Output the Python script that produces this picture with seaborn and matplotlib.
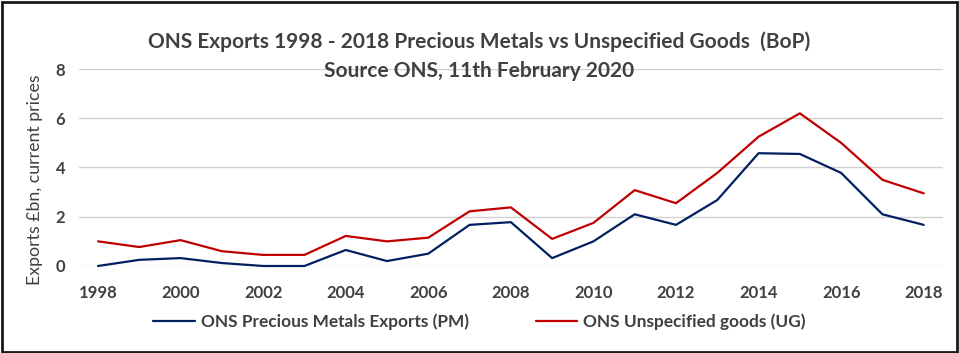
import pandas as pd
import matplotlib.pyplot as plt
import seaborn as sns
from matplotlib.patches import Rectangle

# data (GBP bn, current prices)
years = list(range(1998, 2019))
pm_exports = [0.0, 0.25, 0.32, 0.12, 0.0, 0.0, 0.65, 0.2, 0.5, 1.67, 1.78,
              0.32, 1.0, 2.1, 1.67, 2.68, 4.58, 4.55, 3.78, 2.1, 1.67]
ug_exports = [1.0, 0.77, 1.05, 0.6, 0.45, 0.45, 1.22, 1.0, 1.15, 2.22, 2.38,
              1.1, 1.75, 3.08, 2.55, 3.78, 5.25, 6.2, 5.0, 3.5, 2.95]
series_names = ['ONS Precious Metals Exports (PM)', 'ONS Unspecified goods (UG)']
series_colors = ['#002060', '#C00000']

df = pd.concat([
    pd.DataFrame({'year': years, 'value': pm_exports, 'series': series_names[0]}),
    pd.DataFrame({'year': years, 'value': ug_exports, 'series': series_names[1]}),
])

sns.set_style('white')
plt.rcParams['font.family'] = ['Lato', 'DejaVu Sans']
txt = '#404040'

fig = plt.figure(figsize=(9.59, 3.53), dpi=100)
ax = fig.add_axes([0.0824, 0.2465, 0.9006, 0.558])

sns.lineplot(data=df, x='year', y='value', hue='series',
             palette=dict(zip(series_names, series_colors)),
             linewidth=1.6, ax=ax, legend=False)
for l in ax.lines:
    l.set_clip_on(False)

ax.set_xlim(1997.54, 2018.46)
ax.set_ylim(0, 8)
ax.set_xticks(range(1998, 2019, 2))
ax.set_yticks(range(0, 9, 2))
ax.grid(axis='y', color='#d0d0d0', linewidth=1)
ax.set_axisbelow(True)
for s in ax.spines.values():
    s.set_visible(False)
ax.tick_params(length=0, labelsize=12, labelcolor=txt)
ax.tick_params(axis='x', pad=14)
ax.tick_params(axis='y', pad=10)
for lab in ax.get_xticklabels() + ax.get_yticklabels():
    lab.set_fontweight('bold')
ax.set_xlabel('')
ax.set_ylabel('')

# y label placed like the original (slightly below the axes centre)
fig.text(35 / 959, 1 - 180 / 353, 'Exports £bn, current prices', rotation=90,
         ha='center', va='center', fontsize=12.8, color=txt)

title_lines = ['ONS Exports 1998 - 2018 Precious Metals vs Unspecified Goods  (BoP)',
               'Source ONS, 11th February 2020']
fig.text(0.5, 1 - 42 / 353, title_lines[0], ha='center', va='center',
         fontsize=15, fontweight='bold', color=txt)
fig.text(0.5, 1 - 71 / 353, title_lines[1], ha='center', va='center',
         fontsize=15, fontweight='bold', color=txt)

handles = [plt.Line2D([], [], color=c, linewidth=1.6) for c in series_colors]
fig.legend(handles, series_names, loc='center', bbox_to_anchor=(0.5, 1 - 322 / 353),
           ncol=2, frameon=False, handlelength=2.4, handletextpad=0.35,
           columnspacing=3.9, labelcolor=txt, prop={'weight': 'bold', 'size': 12.4})

fig.patches.append(Rectangle((0.002, 0.004), 0.996, 0.99, transform=fig.transFigure,
                             fill=False, edgecolor='#1a1a1a', linewidth=2))

fig.savefig('out.png', dpi=100)
